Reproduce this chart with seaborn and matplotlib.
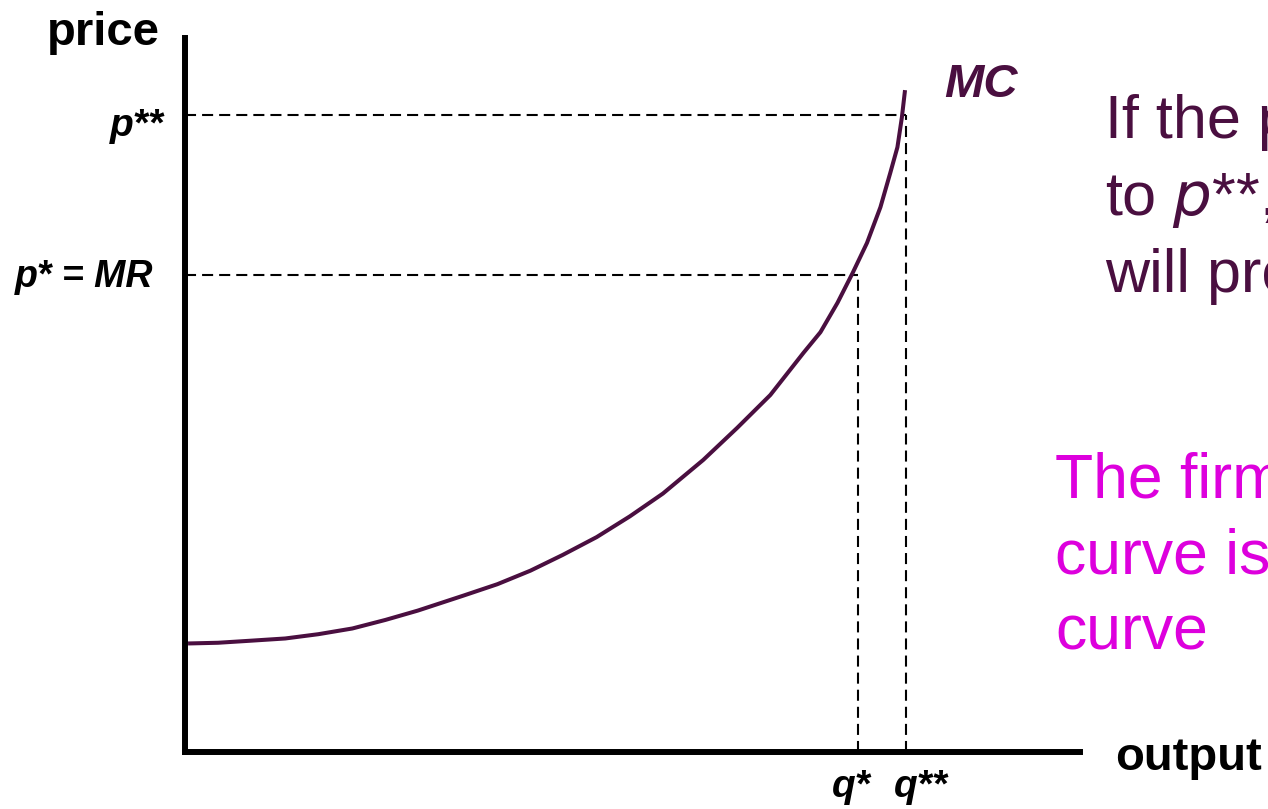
import matplotlib
matplotlib.use("Agg")
import matplotlib.pyplot as plt
import seaborn as sns
import pandas as pd

# Marginal cost curve (output, price)
output = [0.34, 3.7, 7.5, 11.2, 14.9, 18.7, 22.4, 26.0, 31.1, 34.9, 38.6, 42.2,
          46.0, 49.7, 53.4, 57.9, 61.7, 65.4, 69.1, 71.0, 72.9, 74.6, 76.2,
          77.7, 78.8, 79.6, 80.1, 80.45]
mc = [15.2, 15.3, 15.6, 15.9, 16.5, 17.3, 18.5, 19.8, 21.9, 23.5, 25.4, 27.6,
      30.1, 33.0, 36.2, 40.9, 45.4, 50.0, 55.9, 58.8, 62.9, 67.1, 71.3,
      76.3, 81.1, 84.7, 88.9, 92.7]

# Price levels and the matching quantities
p_star, p_2star = 66.8, 89.2
q_star, q_2star = 75.2, 80.6

price_labels = ["p* = MR", "p**"]
qty_labels = ["q*", "q**"]

text_lines = ["If the price rises", "to $\\it{p}$**, the firm", "will produce q**"]
note_lines = ["The firm's supply", "curve is its MC", "curve"]

PURPLE = "#4a0f40"
MAGENTA = "#dd00dd"

sns.set_theme(style="white")
plt.rcParams["font.family"] = ["Liberation Sans", "DejaVu Sans"]

W, H = 1268, 809
fig = plt.figure(figsize=(W / 100, H / 100), dpi=100)
ax = fig.add_axes([185 / W, 57 / H, 895 / W, 714 / H])

df = pd.DataFrame({"output": output, "price": mc})
sns.lineplot(data=df, x="output", y="price", sort=False, ax=ax,
             color=PURPLE, linewidth=2.9, zorder=3,
             solid_joinstyle="round", solid_capstyle="butt")

# Dashed guides from the axes to the curve
dash = dict(color="black", linewidth=1.5, dashes=(5.3, 2.9), zorder=2)
for p, q in [(p_star, q_star), (p_2star, q_2star)]:
    ax.plot([0, q], [p, p], **dash)
    ax.plot([q, q], [0, p], **dash)

ax.set_xlim(0, 100)
ax.set_ylim(0, 100)
ax.set_xticks([])
ax.set_yticks([])
ax.set_xlabel("")
ax.set_ylabel("")
for side in ["top", "right"]:
    ax.spines[side].set_visible(False)
for side in ["left", "bottom"]:
    ax.spines[side].set_linewidth(4.3)
    ax.spines[side].set_color("black")
    ax.spines[side].set_zorder(4)

lab = dict(fontweight="bold", fontstyle="italic", color="black",
           textcoords="offset pixels", va="baseline", annotation_clip=False)
ax.annotate(price_labels[1], xy=(0, p_2star), xytext=(-21, -21), ha="right",
            fontsize=28, **lab)
ax.annotate(price_labels[0], xy=(0, p_star), xytext=(-32, -12), ha="right",
            fontsize=27, **lab)
ax.annotate(qty_labels[0], xy=(q_star, 0), xytext=(-7, -45), ha="center",
            fontsize=28, **lab)
ax.annotate(qty_labels[1], xy=(q_2star, 0), xytext=(15, -45), ha="center",
            fontsize=28, **lab)

ax.annotate("MC", xy=(output[-1], mc[-1]), xytext=(39, -7),
            textcoords="offset pixels", fontsize=34, fontweight="bold",
            fontstyle="italic", color=PURPLE, va="baseline", ha="left",
            annotation_clip=False)

axis_lab = dict(fontsize=34, fontweight="bold", color="black",
                textcoords="offset pixels", va="baseline", annotation_clip=False)
ax.annotate("price", xy=(0, 100), xytext=(-25, -7), ha="right",
            xycoords="data", **axis_lab)
ax.annotate("output", xy=(100, 0), xytext=(35, -18), ha="left",
            xycoords="data", **axis_lab)

for i, line in enumerate(text_lines):
    fig.text(1105 / W, 1 - (138 + 77 * i) / H, line, fontsize=44,
             color=PURPLE, ha="left", va="baseline")
for i, line in enumerate(note_lines):
    fig.text(1055 / W, 1 - (498 + 76 * i) / H, line, fontsize=45,
             color=MAGENTA, ha="left", va="baseline")

fig.savefig("out.png", dpi=100)
